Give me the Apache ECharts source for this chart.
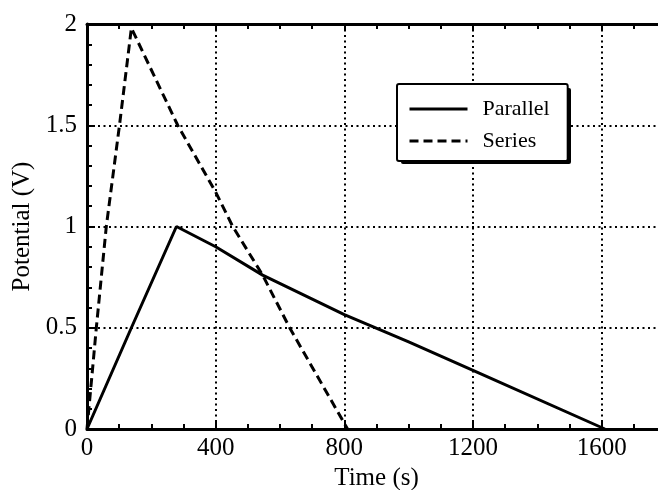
<!DOCTYPE html>
<html>
<head>
<meta charset="utf-8">
<script src="https://cdn.jsdelivr.net/npm/echarts@6/dist/echarts.min.js"></script>
<style>
  html, body { margin: 0; padding: 0; overflow: hidden; background: #fff; }
  #chart { width: 666px; height: 490px; }
</style>
</head>
<body>
<div id="chart"></div>
<script>
// time (s) and potential (V)
const parallelTime = [0, 138, 278, 400, 546, 800, 1000, 1200, 1610]
const parallelVolt = [0, 0.5, 1.0, 0.90, 0.76, 0.565, 0.43, 0.29, 0]
const seriesTime = [0, 14, 29, 60, 101, 138, 282, 400, 453, 546, 630, 810]
const seriesVolt = [0, 0.24, 0.5, 1.0, 1.5, 1.98, 1.5, 1.17, 1.0, 0.76, 0.5, 0]
const seriesNames = ['Parallel', 'Series']

const font = 'Liberation Serif'
const chart = echarts.init(document.getElementById('chart'))

function pairs(xs, ys) {
  return xs.map((x, i) => [x, ys[i]])
}

const gridDots = { show: true, lineStyle: { color: '#000', width: 2, type: [2, 3.5] } }

const option = {
  animation: false,
  backgroundColor: '#fff',
  grid: { left: 87, top: 24, right: 0, bottom: 61, outerBoundsMode: 'none' },
  // drop shadow behind the legend box
  graphic: [{
    type: 'rect',
    left: 401,
    top: 88,
    z: 10,
    shape: { width: 170, height: 76, r: 2 },
    style: { fill: '#000' }
  }],
  legend: {
    z: 20,
    orient: 'vertical',
    left: 397,
    top: 84,
    padding: [14, 18, 9, 11],
    itemWidth: 58,
    itemHeight: 22,
    itemGap: 10,
    backgroundColor: '#fff',
    borderColor: '#000',
    borderWidth: 2,
    borderRadius: 2,
    itemStyle: { opacity: 0 },
    lineStyle: { width: 3 },
    textStyle: { fontFamily: font, fontSize: 22, color: '#000', padding: [0, 0, 0, 10] },
    data: seriesNames
  },
  xAxis: [{
    type: 'value',
    min: 0,
    max: 1800,
    interval: 400,
    name: 'Time (s)',
    nameLocation: 'middle',
    nameGap: 34,
    nameTextStyle: { fontFamily: font, fontSize: 25, color: '#000' },
    axisLine: { onZero: false, lineStyle: { color: '#000', width: 3 } },
    axisTick: { inside: true, length: 8, lineStyle: { color: '#000', width: 2 } },
    minorTick: { show: true, splitNumber: 4, length: 5, lineStyle: { color: '#000', width: 2 } },
    axisLabel: { fontFamily: font, fontSize: 25, color: '#000', margin: 7, showMaxLabel: false, formatter: v => String(v) },
    splitLine: gridDots
  }, {
    type: 'value',
    position: 'top',
    min: 0,
    max: 1800,
    interval: 400,
    axisLine: { onZero: false, lineStyle: { color: '#000', width: 3 } },
    axisTick: { inside: true, length: 6, lineStyle: { color: '#000', width: 2 } },
    minorTick: { show: true, splitNumber: 4, length: 5, lineStyle: { color: '#000', width: 2 } },
    axisLabel: { show: false },
    splitLine: { show: false }
  }],
  yAxis: {
    type: 'value',
    min: 0,
    max: 2,
    interval: 0.5,
    name: 'Potential (V)',
    nameLocation: 'middle',
    nameGap: 50,
    nameTextStyle: { fontFamily: font, fontSize: 25, color: '#000' },
    axisLine: { show: true, onZero: false, lineStyle: { color: '#000', width: 3 } },
    axisTick: { show: true, inside: true, length: 8, lineStyle: { color: '#000', width: 2 } },
    minorTick: { show: true, splitNumber: 5, length: 5, lineStyle: { color: '#000', width: 2 } },
    axisLabel: { fontFamily: font, fontSize: 25, color: '#000', margin: 10 },
    splitLine: gridDots
  },
  series: [{
    name: seriesNames[0],
    type: 'line',
    symbol: 'none',
    data: pairs(parallelTime, parallelVolt),
    lineStyle: { color: '#000', width: 3, type: 'solid' },
    itemStyle: { color: '#000' }
  }, {
    name: seriesNames[1],
    type: 'line',
    symbol: 'none',
    data: pairs(seriesTime, seriesVolt),
    lineStyle: { color: '#000', width: 3, type: [9, 5] },
    itemStyle: { color: '#000' }
  }]
}

chart.setOption(option)
</script>
</body>
</html>
